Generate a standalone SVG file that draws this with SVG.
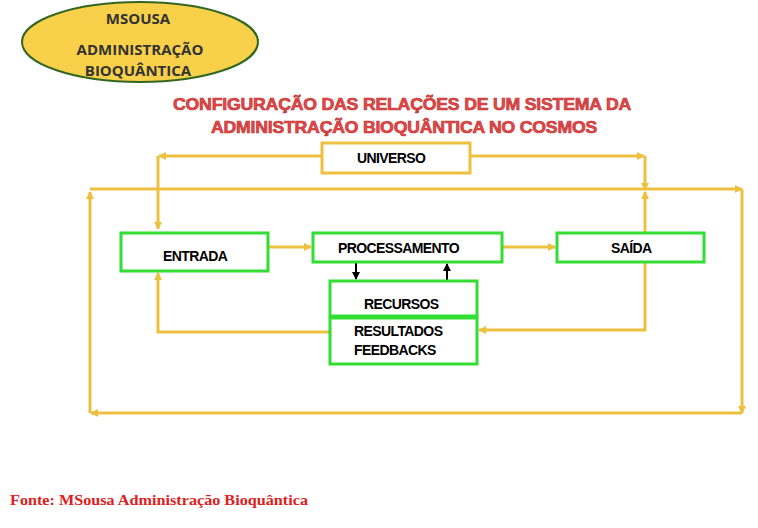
<svg xmlns="http://www.w3.org/2000/svg" width="758" height="528" viewBox="0 0 758 528">
<style>
.y{fill:none;stroke:#EDC040;stroke-width:3}
.g{fill:#fff;stroke:#33DD33;stroke-width:3}
.t{font-family:"Liberation Sans",Arial,sans-serif;font-weight:bold;font-size:14px;fill:#000;letter-spacing:-0.6px}
.e{font-family:"Open Sans","Liberation Sans",sans-serif;font-weight:bold;font-size:15px;fill:#333;text-anchor:middle}
.r{font-family:"Liberation Sans",Arial,sans-serif;font-weight:bold;font-size:16px;fill:#E84848;stroke:#B83030;stroke-width:0.6;text-anchor:middle;letter-spacing:-0.2px}
</style>
<defs>
<marker id="a" markerWidth="8" markerHeight="8" refX="7" refY="4" orient="auto" markerUnits="userSpaceOnUse"><path d="M0,0 L8,4 L0,8 z" fill="#EDC040"/></marker>
<marker id="k" markerWidth="8" markerHeight="8" refX="7" refY="4" orient="auto" markerUnits="userSpaceOnUse"><path d="M0,0 L8,4 L0,8 z" fill="#000"/></marker>
</defs>
<rect width="758" height="528" fill="#fff"/>
<g id="logo"><ellipse cx="140" cy="42" rx="118" ry="40" fill="#F8D04A" stroke="#336622" stroke-width="2"/>
<text class="e" x="138" y="24">MSOUSA</text><text class="e" x="140" y="55">ADMINISTRAÇÃO</text><text class="e" x="138" y="76">BIOQUÂNTICA</text></g>
<g id="title"><text class="r" x="402" y="110" textLength="458" lengthAdjust="spacingAndGlyphs">CONFIGURAÇÃO DAS RELAÇÕES DE UM SISTEMA DA</text><text class="r" x="404" y="133" textLength="386" lengthAdjust="spacingAndGlyphs">ADMINISTRAÇÃO BIOQUÂNTICA NO COSMOS</text></g>
<g id="connectors">
<path class="y" d="M322,156 H159" marker-end="url(#a)"/>
<path class="y" d="M158,156 V229" marker-end="url(#a)"/>
<path class="y" d="M470,156 H644" marker-end="url(#a)"/>
<path class="y" d="M645,156 V190" marker-end="url(#a)"/>
<path class="y" d="M90,189 H742" marker-end="url(#a)"/>
<path class="y" d="M742,189 V413" marker-end="url(#a)"/>
<path class="y" d="M742,413 H91" marker-end="url(#a)"/>
<path class="y" d="M90,413 V192" marker-end="url(#a)"/>
<path class="y" d="M268,247 H311" marker-end="url(#a)"/>
<path class="y" d="M502,247 H555" marker-end="url(#a)"/>
<path class="y" d="M645,233 V192" marker-end="url(#a)"/>
<path class="y" d="M645,262 V330 H479" marker-end="url(#a)"/>
<path class="y" d="M330,332 H158 V273" marker-end="url(#a)"/>
<path d="M356,262 V279" stroke="#000" stroke-width="2" marker-end="url(#k)"/>
<path d="M447,281 V264" stroke="#000" stroke-width="2" marker-end="url(#k)"/>
</g>
<g id="universo"><rect x="322" y="143" width="148" height="30" fill="#fff" stroke="#EDC040" stroke-width="3"/><text class="t" x="357" y="163">UNIVERSO</text></g>
<g id="entrada"><rect class="g" x="121" y="233" width="147" height="38"/><text class="t" x="163" y="261">ENTRADA</text></g>
<g id="proc"><rect class="g" x="313" y="233" width="189" height="29"/><text class="t" x="338" y="253">PROCESSAMENTO</text></g>
<g id="saida"><rect class="g" x="557" y="233" width="147" height="29"/><text class="t" x="611" y="253">SAÍDA</text></g>
<g id="recursos"><rect class="g" x="330" y="281" width="147" height="35"/><text class="t" x="364" y="309">RECURSOS</text></g>
<g id="resultados"><rect class="g" x="330" y="318" width="147" height="46"/><text class="t" x="354" y="336">RESULTADOS</text><text class="t" x="354" y="355">FEEDBACKS</text></g>
<text x="10" y="505" font-family="'Liberation Serif',serif" font-weight="bold" font-size="15" fill="#E02020" textLength="298" lengthAdjust="spacingAndGlyphs">Fonte: MSousa Administração Bioquântica</text>
</svg>
